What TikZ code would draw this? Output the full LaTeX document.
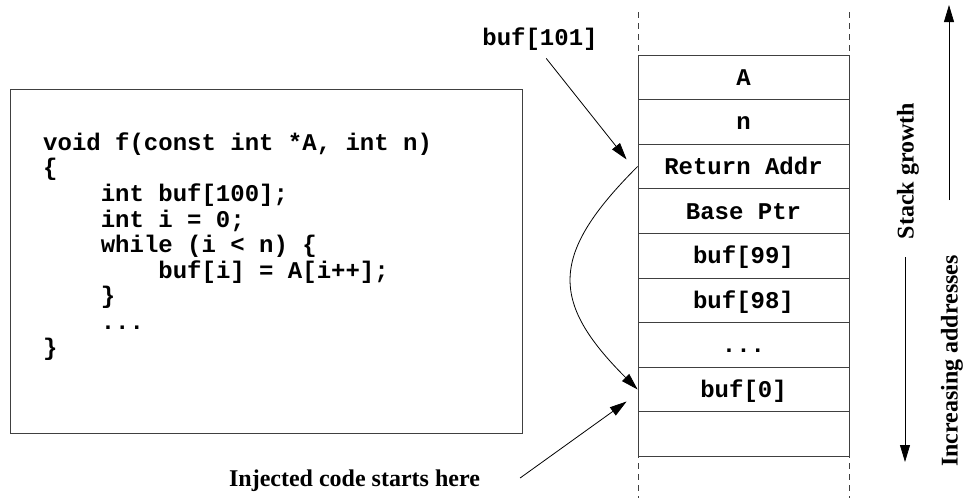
\documentclass[tikz,border=0pt]{standalone}
\usepackage{fontspec}
\setmainfont{Liberation Serif}
\newfontfamily\codefont{Liberation Mono}
\usetikzlibrary{arrows.meta,calc}

\begin{document}
\begin{tikzpicture}[x=1pt,y=-1pt,
  rule/.style={draw=black!75, line width=0.8pt},
  cell/.style={rule, minimum width=211pt, minimum height=44.6pt, inner sep=0pt,
    text height=19pt, text depth=3pt,
    font=\codefont\bfseries\fontsize{24}{26}\selectfont},
  tip/.style={-{Triangle[length=17pt,width=10pt]}, line width=0.8pt, black},
  lbl/.style={inner sep=0pt, font=\bfseries\fontsize{24}{26}\selectfont},
  codetxt/.style={inner sep=0pt, align=left,
    font=\codefont\bfseries\fontsize{24}{25.6}\selectfont},
  guide/.style={draw=black!75, line width=0.8pt, dash pattern=on 6pt off 5pt}
]
\useasboundingbox (0,0) rectangle (967,498);

% stack frame boundaries (dashed, extending beyond the frame)
\draw[guide] (638,12) -- (638,498);
\draw[guide] (849,12) -- (849,498);

% stack cells, top to bottom
\node[cell, fill=white] (cA)   at (743.5, 77.3) {A};
\node[cell, fill=white] (cN)   at (743.5,121.9) {n};
\node[cell, fill=white] (cRet) at (743.5,166.5) {Return Addr};
\node[cell, fill=white] (cBp)  at (743.5,211.1) {Base Ptr};
\node[cell, fill=white] (c99)  at (743.5,255.7) {buf[99]};
\node[cell, fill=white] (c98)  at (743.5,300.3) {buf[98]};
\node[cell, fill=white] (cDot) at (743.5,344.9) {...};
\node[cell, fill=white] (cB0)  at (743.5,389.5) {buf[0]};
\node[cell, fill=white] (cLow) at (743.5,434.1) {};

% source code box
\node[rule, line width=0.9pt, minimum width=512pt, minimum height=344pt, inner sep=0pt]
  (codebox) at (266,261) {};
% the base anchor of a multi-line node sits on its last line
\node[codetxt, anchor=base west] (code) at (43,355) {%
void f(const int *A, int n)\\
\{\\
\hspace*{57.6pt}int buf[100];\\
\hspace*{57.6pt}int i = 0;\\
\hspace*{57.6pt}while (i < n) \{\\
\hspace*{115.2pt}buf[i] = A[i++];\\
\hspace*{57.6pt}\}\\
\hspace*{57.6pt}...\\
\}};

% labels
\node[codetxt] (b101) at (540,39) {buf[101]};
\node[lbl] (inj) at (354.5,481) {Injected code starts here};
\node[lbl, rotate=90] (grow) at (908,171) {Stack growth};
\node[lbl, rotate=90] (incr) at (952,361) {Increasing addresses};

% pointers into the stack
\coordinate (retTip) at ($(cRet.west)+(-11,-7)$);
\coordinate (injTip) at ($(cB0.west)+(-11,12)$);
\draw[tip, shorten <=10pt] (b101.south) -- (retTip);
\draw[tip] ($(inj.east)+(40,-3)$) -- (injTip);
\draw[tip] (cRet.west) .. controls +(-88,88) and +(-88,-88) .. (cB0.west);

% direction arrows
\coordinate (growA) at (949,200);
\coordinate (growB) at (949,5);
\coordinate (incrA) at (905,257);
\coordinate (incrB) at (905,462);
\draw[tip] (growA) -- (growB);
\draw[tip] (incrA) -- (incrB);
\end{tikzpicture}
\end{document}
